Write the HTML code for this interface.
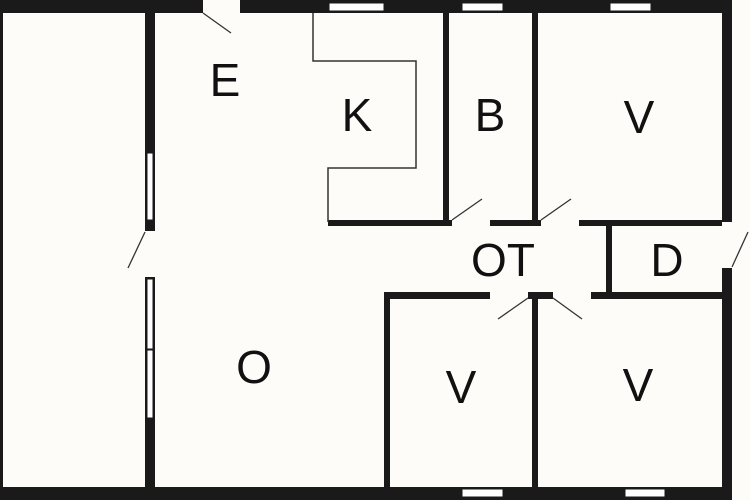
<!DOCTYPE html>
<html><head><meta charset="utf-8"><style>
html,body{margin:0;padding:0;background:#fdfcf9}
svg{display:block}
text{font-family:"Liberation Sans",sans-serif;font-size:46px;fill:#111}
</style></head><body>
<svg width="750" height="500" viewBox="0 0 750 500" xmlns="http://www.w3.org/2000/svg">
<rect width="750" height="500" fill="#fdfcf9"/>
<g fill="#1a1a1a">
<!-- top wall -->
<rect x="0" y="0" width="203" height="13"/>
<rect x="240" y="0" width="492" height="13"/>
<!-- bottom wall -->
<rect x="0" y="487" width="732" height="13"/>
<!-- left outer -->
<rect x="0" y="0" width="3" height="500"/>
<!-- right outer -->
<rect x="722" y="0" width="10" height="222"/>
<rect x="722" y="268" width="10" height="232"/>
<!-- left inner wall -->
<rect x="145" y="13" width="10" height="218"/>
<rect x="145" y="277" width="10" height="223"/>
<!-- B walls -->
<rect x="443" y="13" width="6" height="213"/>
<rect x="532" y="13" width="6" height="213"/>
<!-- wall y 220 -->
<rect x="328" y="220" width="124" height="6"/>
<rect x="490" y="220" width="51" height="6"/>
<rect x="579" y="220" width="143" height="6"/>
<!-- D wall -->
<rect x="606" y="226" width="6" height="70"/>
<!-- wall y 292 -->
<rect x="384" y="292" width="106" height="7"/>
<rect x="528" y="292" width="25" height="7"/>
<rect x="591" y="292" width="131" height="7"/>
<rect x="384" y="292" width="6" height="195"/>
<rect x="532" y="292" width="6" height="195"/>
</g>
<!-- windows -->
<g fill="#fff" stroke="#1a1a1a" stroke-width="1">
<rect x="329" y="3" width="55" height="8"/>
<rect x="462" y="3" width="41" height="8"/>
<rect x="610" y="3" width="41" height="8"/>
<rect x="462" y="489" width="41" height="8"/>
<rect x="625" y="489" width="40" height="8"/>
<rect x="147" y="153" width="6" height="67"/>
<rect x="147" y="279" width="6" height="70"/>
<rect x="147" y="350" width="6" height="68"/>
</g>
<!-- kitchen outline -->
<polyline points="313,13 313,61 416,61 416,168 328,168 328,222" fill="none" stroke="#333" stroke-width="1.5"/>
<!-- door swings -->
<g stroke="#333" stroke-width="1.3">
<line x1="203" y1="13" x2="231" y2="33"/>
<line x1="145" y1="232" x2="128" y2="268"/>
<line x1="452" y1="220" x2="482" y2="199"/>
<line x1="541" y1="220" x2="571" y2="199"/>
<line x1="528" y1="298" x2="498" y2="319"/>
<line x1="553" y1="298" x2="582" y2="319"/>
<line x1="732" y1="267" x2="748" y2="232"/>
</g>
<g text-anchor="middle">
<text x="225" y="96">E</text>
<text x="357" y="131">K</text>
<text x="490" y="131">B</text>
<text x="639" y="133">V</text>
<text x="503" y="276">OT</text>
<text x="667" y="276">D</text>
<text x="254" y="383">O</text>
<text x="461" y="403">V</text>
<text x="638" y="401">V</text>
</g>
</svg>
</body></html>
